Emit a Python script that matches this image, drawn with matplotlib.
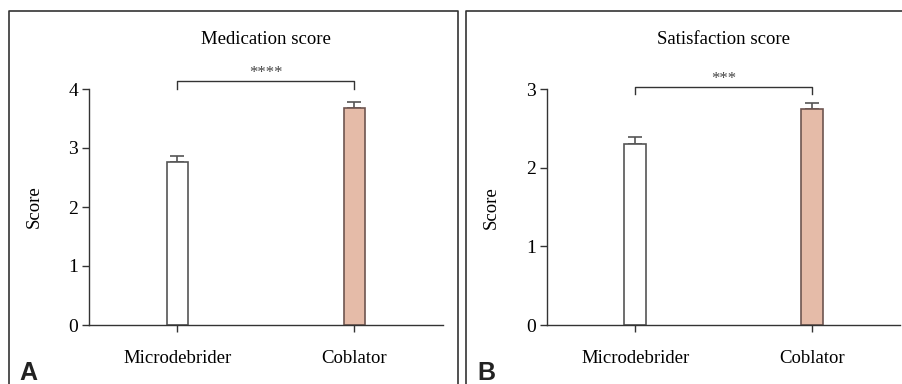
import matplotlib
matplotlib.use("Agg")
import matplotlib.pyplot as plt

categories = ["Microdebrider", "Coblator"]
med_means = [2.76, 3.67]
med_err = [0.11, 0.11]
sat_means = [2.30, 2.75]
sat_err = [0.09, 0.07]
titles = ["Medication score", "Satisfaction score"]
sig_labels = ["****", "***"]
panel_letters = ["A", "B"]
yticks_list = [[0, 1, 2, 3, 4], [0, 1, 2, 3]]

plt.rcParams['font.family'] = ['Liberation Serif', 'DejaVu Serif']

W, H = 903, 384
fig = plt.figure(figsize=(W / 100, H / 100), dpi=100)

def fx(px):
    return px / W

def fy(py):
    return 1 - py / H

# panel frames
for (x0, x1) in [(9.5, 458.5), (466.5, 910)]:
    fig.add_artist(plt.Line2D([fx(x0), fx(x0), fx(x1), fx(x1)],
                              [fy(390), fy(10.5), fy(10.5), fy(390)],
                              color="#333333", lw=1.2, transform=fig.transFigure))

axes_specs = [
    (89, 443, 325, 89, 4),
    (547, 900.5, 325, 89.3, 3),
]
data = [(med_means, med_err), (sat_means, sat_err)]
colors = ["white", "#E5BBA8"]
edges = ["#555555", "#6e5550"]
brackets = [(4.14, 4.0), (3.03, 2.94)]
letter_x = [28, 486]
ylabel_x = [34, 491]

for i, (l, r, b, t, ymax) in enumerate(axes_specs):
    ax = fig.add_axes([fx(l), fy(b), fx(r) - fx(l), fy(t) - fy(b)])
    means, errs = data[i]
    xs = list(range(len(categories)))
    ax.bar(xs, means, width=0.124, color=colors, edgecolor=edges, linewidth=1.2, zorder=2)
    ax.errorbar(xs, means, yerr=[[0, 0], errs], fmt="none", ecolor="#555555",
                elinewidth=1.2, capsize=5, capthick=1.2, zorder=1)
    ax.set_xlim(-0.5, 1.5)
    ax.set_ylim(0, ymax)
    ax.set_yticks(yticks_list[i])
    ax.set_xticks(xs)
    ax.set_xticklabels(categories, fontsize=13.5)
    ax.tick_params(axis="y", labelsize=14, length=5, width=1, color="#333333", pad=3)
    ax.tick_params(axis="x", length=5, width=1, color="#333333", pad=13)
    for s in ["top", "right"]:
        ax.spines[s].set_visible(False)
    for s in ["left", "bottom"]:
        ax.spines[s].set_color("#333333")
        ax.spines[s].set_linewidth(1.0)
    ax.set_ylabel("Score", fontsize=13.5, va="center")
    ax.yaxis.set_label_coords((ylabel_x[i] - l) / (r - l), 0.5)
    ax.set_title(titles[i], fontsize=13.5, pad=0, y=(fy(39) - fy(b)) / (fy(t) - fy(b)), va="center")
    ytop, ybot = brackets[i]
    ax.plot([0, 0, 1, 1], [ybot, ytop, ytop, ybot], color="#333333", lw=1.0, clip_on=False)
    ax.text(0.5, ytop, sig_labels[i], ha="center", va="bottom", fontsize=12, color="#444444")
    fig.text(fx(letter_x[i]), fy(373), panel_letters[i], family="Liberation Sans",
             fontweight="bold", fontsize=18, ha="center", va="center", color="#222222")

fig.savefig("out.png", dpi=100)
